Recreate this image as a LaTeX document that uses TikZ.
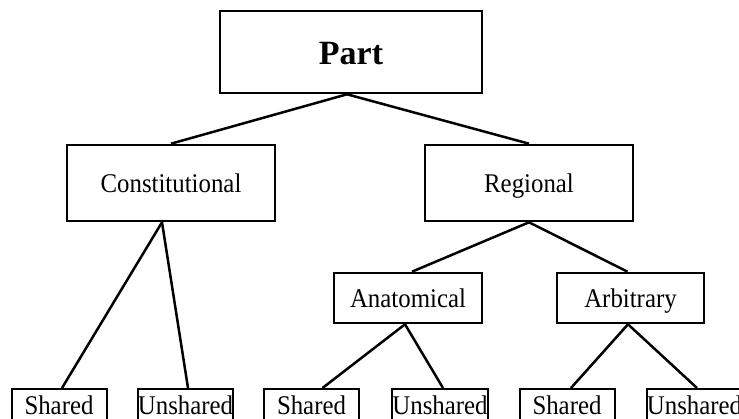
\documentclass[tikz,border=0pt]{standalone}
\usepackage{fontspec}
\setmainfont{Liberation Serif}
\newfontfamily\condfont[FakeStretch=0.92]{Liberation Serif}
\begin{document}
\begin{tikzpicture}[x=1pt,y=-1pt,
  box/.style={draw,line width=2.6pt,inner sep=0pt,text height=20pt,text depth=0pt,
    font=\condfont\fontsize{27}{32}\selectfont},
  leaf/.style={draw,line width=2pt,inner xsep=0pt,inner ysep=0pt,anchor=north,
    minimum width=95pt,text height=25pt,text depth=22pt,font=\condfont\fontsize{27}{32}\selectfont},
  link/.style={line width=2.5pt}]
\useasboundingbox (0,0) rectangle (739,419);
\clip (0,0) rectangle (739,419);
\node[box,minimum width=262pt,minimum height=82pt,text height=26pt,font=\fontsize{34}{40}\selectfont\bfseries] (part) at (351,52) {Part};
\node[box,minimum width=208pt,minimum height=76pt] (const) at (171,183) {Constitutional};
\node[box,minimum width=208pt,minimum height=76pt] (reg) at (529,183) {Regional};
\node[box,minimum width=148pt,minimum height=50pt] (anat) at (408,298) {Anatomical};
\node[box,minimum width=147pt,minimum height=50pt] (arb) at (630.5,298) {Arbitrary};
\node[leaf] (s1) at (59,388) {Shared};
\node[leaf] (u1) at (185.5,388) {Unshared};
\node[leaf] (s2) at (311.5,388) {Shared};
\node[leaf] (u2) at (440,388) {Unshared};
\node[leaf] (s3) at (567,388) {Shared};
\node[leaf] (u3) at (694.5,388) {Unshared};
\draw[link] ([xshift=-4pt]part.south) -- (const.north);
\draw[link] ([xshift=-4pt]part.south) -- (reg.north);
\draw[link] ([xshift=-9pt]const.south) -- ([xshift=3pt]s1.north);
\draw[link] ([xshift=-9pt]const.south) -- ([xshift=2.5pt]u1.north);
\draw[link] (reg.south) -- ([xshift=4pt]anat.north);
\draw[link] (reg.south) -- ([xshift=-3pt]arb.north);
\draw[link] ([xshift=-3pt]anat.south) -- ([xshift=11pt]s2.north);
\draw[link] ([xshift=-3pt]anat.south) -- ([xshift=3pt]u2.north);
\draw[link] ([xshift=-2.5pt]arb.south) -- ([xshift=4pt]s3.north);
\draw[link] ([xshift=-2.5pt]arb.south) -- ([xshift=2.5pt]u3.north);
\end{tikzpicture}
\end{document}
